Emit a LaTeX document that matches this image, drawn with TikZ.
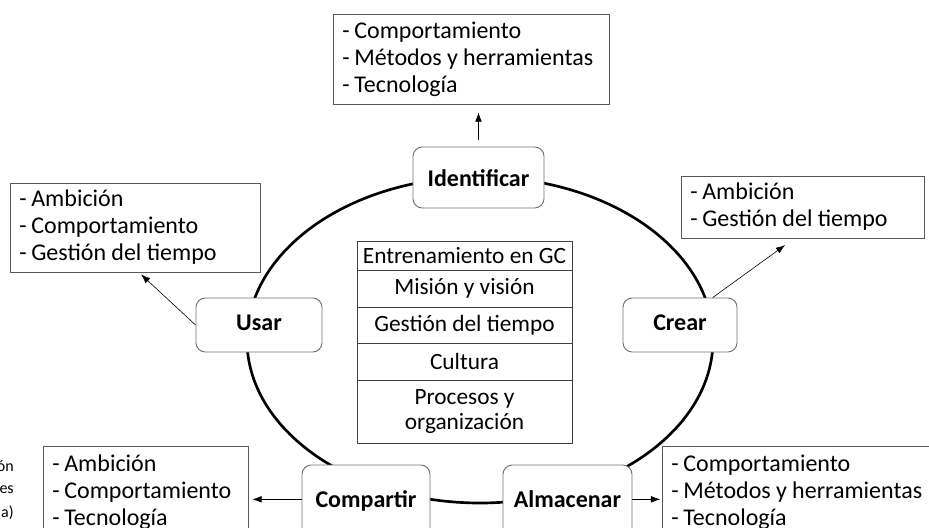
\documentclass[tikz,border=0pt]{standalone}
\usepackage{fontspec}
\setmainfont{Carlito}
\usetikzlibrary{positioning,arrows.meta}
\newcommand{\guion}{\spaceskip=0.22em\relax-\hspace{3.5pt}}
\newcommand{\espacios}{\hyphenpenalty=10000\relax}

\begin{document}
\begin{tikzpicture}[x=0.75pt,y=-0.75pt,
    etapa/.style={draw=black!55, fill=white, rounded corners=7pt, line width=0.7pt,
        inner sep=0pt, text height=12pt, text depth=4.5pt,
        font=\fontsize{18}{20}\selectfont\bfseries},
    lista/.style={draw=black!65, fill=white, line width=0.6pt, align=left,
        inner xsep=7pt, inner ysep=0pt,
        font=\fontsize{18}{20.25}\selectfont\espacios},
    pilar/.style={draw=black!75, line width=0.6pt, minimum width=161.25pt,
        inner sep=0pt, outer sep=0pt, align=center,
        font=\fontsize{17.5}{19}\selectfont\espacios},
    flecha/.style={-{Latex[length=7pt,width=5pt]}, line width=0.45pt},
    fragmento/.style={anchor=east, inner sep=0pt, font=\fontsize{12}{14}\selectfont},
]
\useasboundingbox (0,0) rectangle (929,528);

% ciclo del conocimiento
\coordinate (centro) at (480,340);
\draw[line width=2pt] (centro) ellipse [x radius=174.75pt, y radius=122.25pt];

% etapas
\node[etapa, minimum width=98.25pt, minimum height=45.75pt, text height=14pt, text depth=0pt] (id) at (478.5,177.5) {Identificar};
\node[etapa, minimum width=94.5pt, minimum height=40.5pt] (usar) at (259,325) {Usar};
\node[etapa, minimum width=85.5pt, minimum height=40.5pt] (crear) at (680,325) {Crear};
\node[etapa, minimum width=96pt, minimum height=55.5pt] (comp) at (366,502) {Compartir};
\node[etapa, minimum width=96.75pt, minimum height=55.5pt] (alm) at (567.5,502) {Almacenar};

% pilares en el centro
\node[pilar, minimum height=21.75pt] (p1) at (464.5,255.5) {Entrenamiento en GC};
\node[pilar, minimum height=27.75pt, below=0pt of p1] (p2) {Misión y visión};
\node[pilar, minimum height=27pt, below=0pt of p2] (p3) {Gestión del tiempo};
\node[pilar, minimum height=27.75pt, below=0pt of p3] (p4) {Cultura};
\node[pilar, minimum height=47.25pt, below=0pt of p4] (p5) {Procesos y\\organización};

% factores de cada etapa
\node[lista, text width=193pt, minimum height=67.5pt] (l_id) at (471,59)
    {\guion Comportamiento\\\mbox{\guion Métodos y herramientas}\\\guion Tecnología};
\node[lista, text width=173.5pt, minimum height=66.75pt] (l_usar) at (135,227.5)
    {\guion Ambición\\\guion Comportamiento\\\mbox{\guion Gestión del tiempo}};
\node[lista, text width=168.25pt, minimum height=46.5pt] (l_crear) at (802.5,207)
    {\guion Ambición\\\mbox{\guion Gestión del tiempo}};
\node[lista, text width=139.75pt, minimum height=69pt] (l_comp) at (145.5,492)
    {\guion Ambición\\\guion Comportamiento\\\guion Tecnología};
\node[lista, text width=196pt, minimum height=69pt] (l_alm) at (802,492)
    {\guion Comportamiento\\\mbox{\guion Métodos y herramientas}\\\guion Tecnología};

\draw[flecha, shorten <=5pt, shorten >=6pt] (id.north) -- (id.north |- l_id.south);
\draw[flecha] (usar.west) -- ([xshift=4.5pt,yshift=-1.5pt]l_usar.south);
\draw[flecha] (crear.40) -- ([xshift=-13pt,yshift=-5pt]l_crear.south);
\draw[flecha, shorten >=3pt] ([yshift=2pt]comp.west) -- ([yshift=2pt]comp.west -| l_comp.east);
\draw[flecha, shorten >=1pt] ([yshift=2pt]alm.east) -- ([yshift=2pt]alm.east -| l_alm.west);

% restos de texto en el borde
\node[fragmento] (f1) at (14,466) {ón};
\node[fragmento] (f2) at (14,490) {es};
\node[fragmento] (f3) at (14,513) {a)};
\end{tikzpicture}
\end{document}
